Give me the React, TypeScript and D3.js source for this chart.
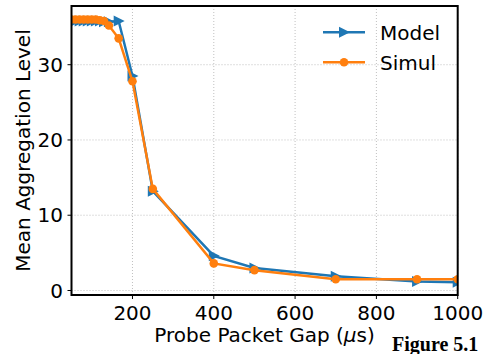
import React from "react";
import * as d3 from "d3";

const gapX = [50, 60, 70, 80, 90, 100, 110, 120, 130, 142, 166, 200, 250, 400, 500, 700, 900, 1000];
const modelY = [35.8, 35.8, 35.8, 35.8, 35.8, 35.8, 35.8, 35.8, 35.7, 35.7, 35.8, 28.5, 13.2, 4.6, 3.0, 1.9, 1.2, 1.1];
const simulY = [36.0, 36.0, 36.0, 36.0, 36.0, 36.0, 36.0, 35.9, 35.8, 35.2, 33.5, 27.8, 13.5, 3.6, 2.7, 1.5, 1.5, 1.5];
const xTicks = [200, 400, 600, 800, 1000];
const yTicks = [0, 10, 20, 30];

const W = 483, H = 354;
const L = 71.5, R = 457.7, T = 6, B = 295;
const FONT = "DejaVu Sans";
const FS = 20;

export default function App() {
  const x = d3.scaleLinear().domain([50, 1000]).range([L, R]);
  const y = d3.scaleLinear().domain([-0.6, 37.8]).range([B, T]);
  const line = d3.line<number>().x((_, i) => x(gapX[i])).y((d) => y(d));
  const tri = (cx: number, cy: number) =>
    `M${cx + 6},${cy} L${cx - 5},${cy - 5.5} L${cx - 5},${cy + 5.5} Z`;
  const blue = "#1f77b4", orange = "#ff7f0e";
  return (
    <svg width={W} height={H} style={{ position: "absolute", left: 0, top: 0, background: "#fff" }}>
      <defs>
        <clipPath id="clip">
          <rect x={L} y={T} width={R - L} height={B - T} />
        </clipPath>
      </defs>
      {xTicks.map((t) => (
        <line key={"gx" + t} x1={x(t)} x2={x(t)} y1={T} y2={B} stroke="#b0b0b0" strokeWidth={0.8} strokeDasharray="1,2" />
      ))}
      {yTicks.map((t) => (
        <line key={"gy" + t} x1={L} x2={R} y1={y(t)} y2={y(t)} stroke="#b0b0b0" strokeWidth={0.8} strokeDasharray="1,2" />
      ))}
      <g clipPath="url(#clip)">
        <path d={line(modelY) || ""} fill="none" stroke={blue} strokeWidth={2.5} />
        {modelY.map((v, i) => (
          <path key={"m" + i} d={tri(x(gapX[i]), y(v))} fill={blue} />
        ))}
        <path d={line(simulY) || ""} fill="none" stroke={orange} strokeWidth={2.5} />
        {simulY.map((v, i) => (
          <circle key={"s" + i} cx={x(gapX[i])} cy={y(v)} r={4.3} fill={orange} />
        ))}
      </g>
      <rect x={L} y={T} width={R - L} height={B - T} fill="none" stroke="#000" strokeWidth={2} />
      {xTicks.map((t) => (
        <g key={"xt" + t}>
          <line x1={x(t)} x2={x(t)} y1={B} y2={B + 4} stroke="#000" strokeWidth={1} />
          <text x={x(t)} y={320} textAnchor="middle" fontFamily={FONT} fontSize={FS} fill="#000">{t}</text>
        </g>
      ))}
      {yTicks.map((t) => (
        <g key={"yt" + t}>
          <line x1={L - 4} x2={L} y1={y(t)} y2={y(t)} stroke="#000" strokeWidth={1} />
          <text x={63} y={y(t)} dy="0.36em" textAnchor="end" fontFamily={FONT} fontSize={FS} fill="#000">{t}</text>
        </g>
      ))}
      <text x={(L + R) / 2} y={342} textAnchor="middle" fontFamily={FONT} fontSize={FS} fill="#000">
        Probe Packet Gap (<tspan fontStyle="italic">μ</tspan>s)
      </text>
      <text transform={`translate(30,${(T + B) / 2}) rotate(-90)`} textAnchor="middle" fontFamily={FONT} fontSize={FS} fill="#000">
        Mean Aggregation Level
      </text>
      <g>
        <line x1={323} x2={365} y1={32.3} y2={32.3} stroke={blue} strokeWidth={2.5} />
        <path d={tri(344, 32.3)} fill={blue} />
        <text x={380} y={39.5} fontFamily={FONT} fontSize={FS} fill="#000">Model</text>
        <line x1={323} x2={365} y1={62.3} y2={62.3} stroke={orange} strokeWidth={2.5} />
        <circle cx={344} cy={62.3} r={4.3} fill={orange} />
        <text x={380} y={69.5} fontFamily={FONT} fontSize={FS} fill="#000">Simul</text>
      </g>
      <text x={392} y={351} fontFamily="Liberation Serif" fontWeight="bold" fontSize={20} fill="#000">Figure 5.1</text>
    </svg>
  );
}
